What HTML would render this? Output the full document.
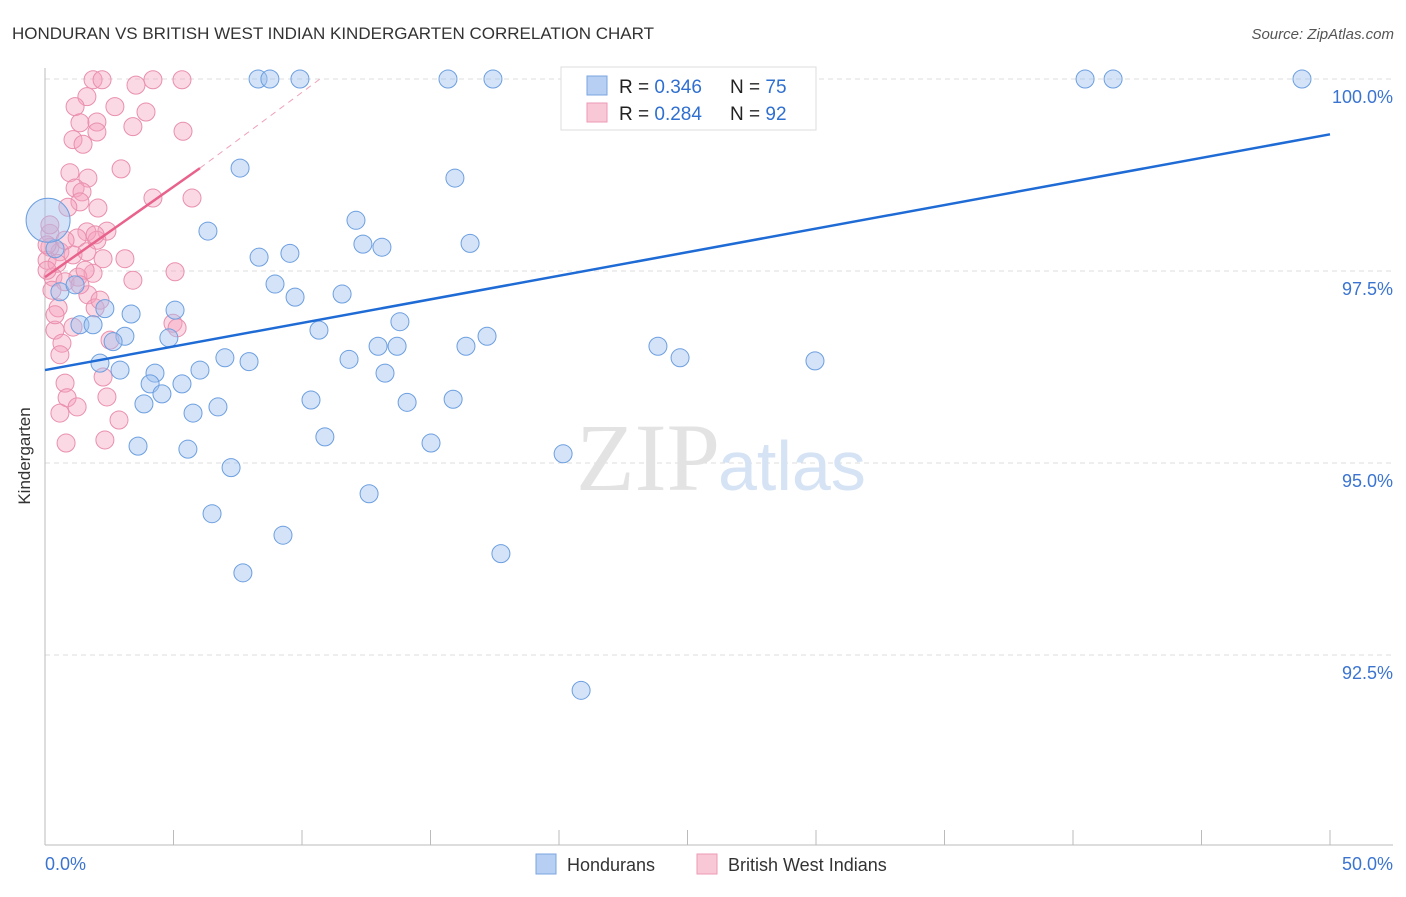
<!DOCTYPE html>
<html><head><meta charset="utf-8"><style>
body{margin:0;background:#fff;font-family:"Liberation Sans",sans-serif;}
</style></head><body>
<svg width="1406" height="892" xmlns="http://www.w3.org/2000/svg">
<text x="12" y="39" font-size="17" fill="#333">HONDURAN VS BRITISH WEST INDIAN KINDERGARTEN CORRELATION CHART</text>
<text x="1394" y="39" font-size="15" fill="#555" font-style="italic" text-anchor="end">Source: ZipAtlas.com</text>
<g id="grid"></g>
<text x="720" y="490" font-size="96" font-family="Liberation Serif,serif" fill="#e3e3e3" text-anchor="end">ZIP</text>
<text x="718" y="490" font-size="70" fill="#d5e3f5">atlas</text>
<g id="axes"></g>
<g id="pts"></g>
<g id="lines"></g>
<text x="30" y="456" font-size="17" fill="#333" text-anchor="middle" transform="rotate(-90 30 456)">Kindergarten</text>
<g>
<rect x="561" y="67" width="255" height="63" fill="#fff" stroke="#ddd"/>
<rect x="587" y="76" width="20" height="19" fill="#b7cff2" stroke="#7aa5e0"/>
<rect x="587" y="103" width="20" height="19" fill="#f8c8d6" stroke="#ec9ab4"/>
<text x="619" y="93" font-size="19" fill="#222">R = <tspan fill="#2f6fd0">0.346</tspan></text>
<text x="730" y="93" font-size="19" fill="#222">N = <tspan fill="#2f6fd0">75</tspan></text>
<text x="619" y="120" font-size="19" fill="#222">R = <tspan fill="#2f6fd0">0.284</tspan></text>
<text x="730" y="120" font-size="19" fill="#222">N = <tspan fill="#2f6fd0">92</tspan></text>
</g>
<g>
<rect x="536" y="854" width="20" height="20" fill="#b7cff2" stroke="#7aa5e0"/>
<text x="567" y="871" font-size="18" fill="#333">Hondurans</text>
<rect x="697" y="854" width="20" height="20" fill="#f8c8d6" stroke="#ec9ab4"/>
<text x="728" y="871" font-size="18" fill="#333">British West Indians</text>
</g>
</svg>
<script>
const yTicks=[100,97.5,95,92.5];
const yTickLabels=["100.0%","97.5%","95.0%","92.5%"];
const xTickLabels=["0.0%","50.0%"];
const blueX=[8.29,8.75,9.92,15.68,17.43,24.98,28.21,40.47,41.56,48.91,7.59,15.95,12.10,6.34,12.37,13.11,16.54,8.33,9.53,8.95,9.73,11.56,0.39,0.58,1.17,2.33,3.35,5.06,1.36,1.87,3.11,2.65,4.82,10.66,13.81,17.20,12.96,13.70,16.38,23.85,24.71,29.96,7.00,7.94,11.83,2.14,2.92,6.03,4.28,13.23,4.09,5.33,4.55,3.85,6.73,5.76,10.35,14.09,15.88,10.89,3.62,5.56,15.02,20.16,7.24,12.61,6.50,9.26,17.74,7.70,20.86];
const blueY=[100,100,100,100,100,100,100,100,100,100,98.84,98.71,98.16,98.02,97.85,97.81,97.86,97.68,97.73,97.33,97.16,97.20,97.79,97.23,97.32,97.01,96.94,96.99,96.80,96.80,96.65,96.58,96.63,96.73,96.84,96.65,96.52,96.52,96.52,96.52,96.37,96.33,96.37,96.32,96.35,96.30,96.21,96.21,96.17,96.17,96.03,96.03,95.90,95.77,95.73,95.65,95.82,95.79,95.83,95.34,95.22,95.18,95.26,95.12,94.94,94.60,94.34,94.06,93.82,93.57,92.04];
const pinkX=[1.87,2.22,3.54,4.20,5.33,1.63,1.17,2.72,3.93,1.36,2.02,3.42,2.02,5.37,1.09,1.48,2.96,0.97,1.67,1.17,1.44,1.36,0.89,2.06,4.20,5.72,1.63,2.41,1.25,2.02,0.19,0.19,0.58,1.09,1.63,2.26,3.11,0.08,0.47,5.06,3.42,0.31,0.78,1.87,1.28,1.67,0.51,1.95,0.39,1.09,4.98,5.14,2.53,0.66,0.58,2.26,0.78,0.86,1.25,2.41,0.58,2.88,0.82,2.33,0.08,0.08,0.19,0.27,0.39,1.56,0.78,1.95,2.14,1.36];
const pinkY=[99.99,99.99,99.92,99.99,99.99,99.77,99.64,99.64,99.57,99.43,99.44,99.38,99.31,99.32,99.21,99.15,98.83,98.78,98.71,98.58,98.53,98.40,98.33,98.32,98.45,98.45,98.01,98.02,97.93,97.90,97.99,97.81,97.75,97.71,97.75,97.66,97.66,97.64,97.60,97.49,97.38,97.42,97.36,97.47,97.42,97.19,97.02,97.02,96.73,96.77,96.82,96.76,96.60,96.56,96.41,96.12,96.04,95.85,95.73,95.86,95.65,95.56,95.26,95.30,97.51,97.84,98.10,97.25,96.93,97.51,97.90,97.97,97.12,97.32];
const bigX=[0.12], bigY=[98.16];
const blueLine=[[0,96.21],[50,99.28]];
const pinkLine=[[0,97.42],[6.03,98.84]];
const pinkDash=[[6.03,98.84],[10.7,100]];
const NS="http://www.w3.org/2000/svg";
const xs=v=>45+v*25.7, ys=v=>79+(100-v)*76.8;
function mk(tag,attrs,parent){const e=document.createElementNS(NS,tag);for(const k in attrs)e.setAttribute(k,attrs[k]);parent.appendChild(e);return e;}
const grid=document.getElementById('grid'),axes=document.getElementById('axes'),pts=document.getElementById('pts'),lines=document.getElementById('lines');
yTicks.forEach((t,i)=>{
 const l=mk('line',{x1:45,x2:1393,y1:ys(t),y2:ys(t),stroke:'#ddd','stroke-dasharray':'5,4'},grid);
 
 
 const tx=mk('text',{x:1393,y:ys(t)+24,'font-size':18,fill:'#3b74d0','text-anchor':'end'},axes);
 tx.textContent=yTickLabels[i];
 
 
});
mk('line',{x1:45,x2:45,y1:68,y2:845,stroke:'#bbb'},axes);
mk('line',{x1:45,x2:1393,y1:845,y2:845,stroke:'#bbb'},axes);
for(let i=0;i<=10;i++){const tk=mk('line',{x1:xs(i*5),x2:xs(i*5),y1:830,y2:845,stroke:'#bbb'},axes);
 
 }
[[0,45,'start'],[50,1393,'end']].forEach((a,i)=>{const tx=mk('text',{x:a[1],y:870,'font-size':18,fill:'#3b74d0','text-anchor':a[2]},axes);tx.textContent=xTickLabels[i];
 
 });
pinkX.forEach((x,i)=>{const c=mk('circle',{cx:xs(x),cy:ys(pinkY[i]),r:9,fill:'rgba(244,160,188,0.4)',stroke:'#e98fae','stroke-width':1},pts);
 
 });
blueX.forEach((x,i)=>{const c=mk('circle',{cx:xs(x),cy:ys(blueY[i]),r:9,fill:'rgba(160,194,240,0.45)',stroke:'#6c9fe0','stroke-width':1},pts);
 
 });
bigX.forEach((x,i)=>{const c=mk('circle',{cx:xs(x),cy:ys(bigY[i]),r:22,fill:'rgba(160,194,240,0.45)',stroke:'#6c9fe0'},pts);
 
 });
const bl=mk('line',{x1:xs(blueLine[0][0]),y1:ys(blueLine[0][1]),x2:xs(blueLine[1][0]),y2:ys(blueLine[1][1]),stroke:'#1f6bd6','stroke-width':2.5},lines);


const pl=mk('line',{x1:xs(pinkLine[0][0]),y1:ys(pinkLine[0][1]),x2:xs(pinkLine[1][0]),y2:ys(pinkLine[1][1]),stroke:'#e8628c','stroke-width':2.5},lines);


const pd=mk('line',{x1:xs(pinkDash[0][0]),y1:ys(pinkDash[0][1]),x2:xs(pinkDash[1][0]),y2:ys(pinkDash[1][1]),stroke:'#efa0b8','stroke-width':1,'stroke-dasharray':'6,5'},lines);


</script>
</body></html>
